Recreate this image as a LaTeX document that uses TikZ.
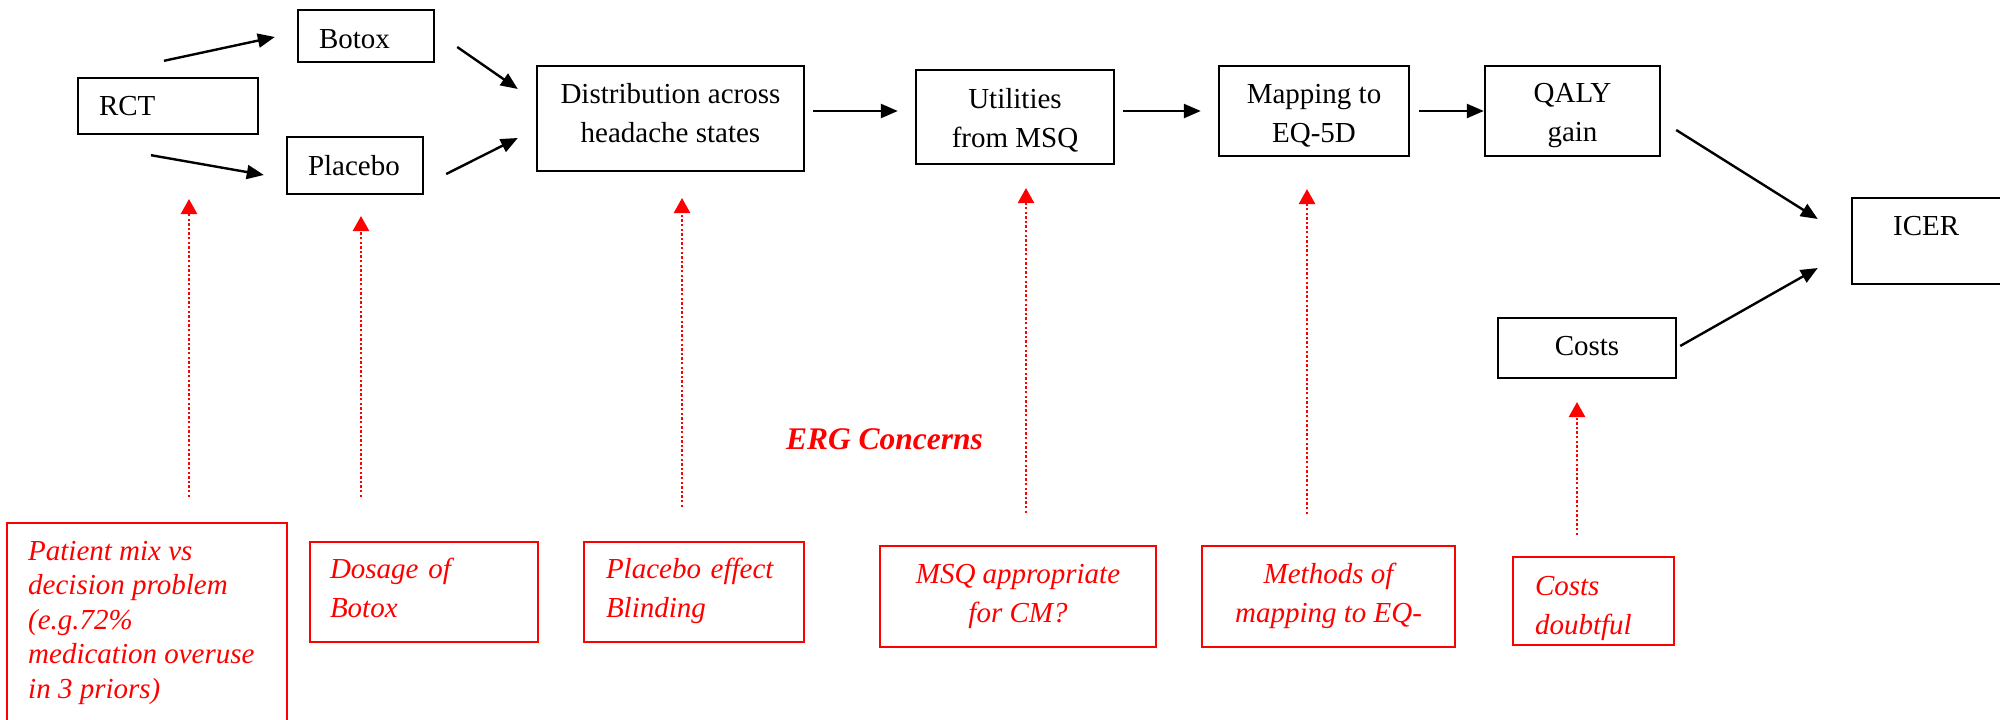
\documentclass[tikz,border=0pt]{standalone}
\usepackage{fontspec}
\setmainfont{Liberation Serif}
\usetikzlibrary{arrows.meta,calc}
\newcommand{\blackfont}{\fontsize{29}{39}\selectfont}
\newcommand{\redfont}{\fontsize{29}{39}\selectfont\itshape}
\begin{document}
\begin{tikzpicture}[x=1pt,y=-1pt,
  box/.style={draw=black, line width=2.4pt, inner sep=0pt, font=\blackfont, align=center, text depth=0pt},
  lbox/.style={box, align=left},
  rbox/.style={draw=red, line width=2.4pt, text=red, inner sep=0pt, font=\redfont, align=center, text depth=0pt},
  arr/.style={line width=2.4pt, -{Triangle[length=17pt,width=14pt]}},
  concern/.style={red, line width=2.4pt, dash pattern=on 2.4pt off 2.2pt, -{Triangle[length=15pt,width=16pt]}}]
\useasboundingbox (0,0) rectangle (2000,720);
% black boxes
\node[lbox, minimum width=180pt, minimum height=56pt, text width=138pt, text height=18pt] (rct) at (168,106) {RCT};
\node[lbox, minimum width=136pt, minimum height=52pt, text width=94pt, text height=24pt] (botox) at (366,36) {Botox};
\node[lbox, minimum width=136pt, minimum height=57pt, text width=94pt, text height=19pt] (placebo) at (355,165.5) {Placebo};
\node[box, minimum width=267pt, minimum height=105pt, text height=47pt] (dist) at (670.5,118.5) {Distribution across\\headache states};
\node[box, minimum width=198pt, minimum height=94pt, text height=60pt] (util) at (1015,117) {Utilities\\from MSQ};
\node[box, minimum width=190pt, minimum height=90pt, text height=62pt] (map) at (1314,111) {Mapping to\\EQ-5D};
\node[box, minimum width=175pt, minimum height=90pt, text height=60pt] (qaly) at (1572.5,111) {QALY\\gain};
\node[box, minimum width=158pt, minimum height=86pt] (icer) at (1931,241) {};
\node[font=\blackfont, anchor=base west, inner sep=0pt] (icertxt) at (1893,235) {ICER};
\node[box, minimum width=178pt, minimum height=60pt, text height=14pt] (costs) at (1587,348) {Costs};
% black arrows
\draw[arr] ($(rct.north)+(-4,-16)$) -- ($(botox.west)+(-22,1)$);
\draw[arr] ($(rct.south)+(-17,20)$) -- ($(placebo.west)+(-22,9.5)$);
\draw[arr] ($(botox.east)+(22,11)$) -- ($(dist.west)+(-18,-29.5)$);
\draw[arr] ($(placebo.east)+(22,8.5)$) -- ($(dist.west)+(-18,19.5)$);
\draw[arr] ($(dist.east)+(8,-7.5)$) -- ($(util.west)+(-17,-6)$);
\draw[arr] ($(util.east)+(8,-6)$) -- ($(map.west)+(-17,0)$);
\draw[arr] ($(map.east)+(9,0)$) -- (qaly.west);
\draw[arr] ($(qaly.east)+(15,19)$) -- ($(icer.west)+(-33,-22)$);
\draw[arr] ($(costs.east)+(3,-2)$) -- ($(icer.west)+(-33,27)$);
% red concern boxes
\node[rbox, minimum width=280pt, minimum height=207pt] (patient) at (147,626.5) {};
\node[text=red, font=\fontsize{29}{34.5}\selectfont\itshape, anchor=north west, align=left, inner sep=0pt] (patienttxt) at (28,541) {Patient mix vs\\decision problem\\(e.g.72\%\\medication overuse\\in 3 priors)};
\node[rbox, align=left, minimum width=228pt, minimum height=100pt, text width=188pt, text height=0pt, text depth=28pt] (dosage) at (424,592) {Dosage of\\Botox};
\node[rbox, align=left, minimum width=220pt, minimum height=100pt, text width=176pt, text height=0pt, text depth=28pt] (pleff) at (694,592) {Placebo effect\\Blinding};
\node[rbox, minimum width=276pt, minimum height=101pt, text height=51pt] (msq) at (1018,596.5) {MSQ appropriate\\for CM?};
\node[rbox, minimum width=253pt, minimum height=101pt, text height=51pt] (methods) at (1328.5,596.5) {Methods of\\mapping to EQ-};
\node[rbox, align=left, minimum width=161pt, minimum height=88pt, text width=117pt, text height=0pt, text depth=12pt] (costd) at (1593.5,601) {Costs\\doubtful};
\node[text=red, font=\fontsize{31.5}{38}\selectfont\bfseries\itshape, anchor=base, inner sep=0pt] (erg) at (884.5,449) {ERG Concerns};
% red dotted arrows
\coordinate (r1s) at (189,497); \coordinate (r1e) at (189,199);
\coordinate (r2s) at (361,497); \coordinate (r2e) at (361,216);
\coordinate (r3s) at (682,507); \coordinate (r3e) at (682,198);
\coordinate (r4s) at (1026,513); \coordinate (r4e) at (1026,188);
\coordinate (r5s) at (1307,514); \coordinate (r5e) at (1307,189);
\coordinate (r6s) at (1577,535); \coordinate (r6e) at (1577,402);
\draw[concern] (r1s) -- (r1e);
\draw[concern] (r2s) -- (r2e);
\draw[concern] (r3s) -- (r3e);
\draw[concern] (r4s) -- (r4e);
\draw[concern] (r5s) -- (r5e);
\draw[concern] (r6s) -- (r6e);
\end{tikzpicture}
\end{document}
